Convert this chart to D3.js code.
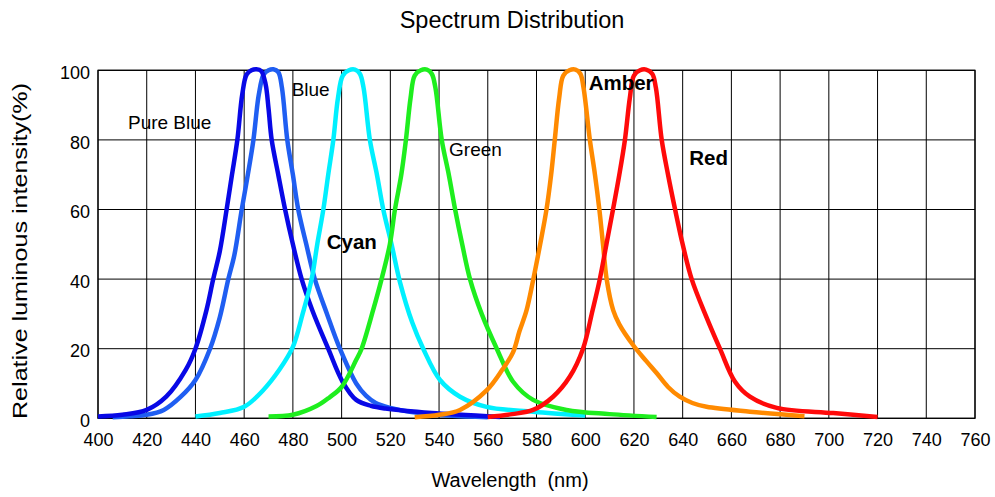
<!DOCTYPE html>
<html>
<head>
<meta charset="utf-8">
<script src="https://cdn.jsdelivr.net/npm/d3@7"></script>
<style>
  html, body { margin: 0; padding: 0; background: #fff; }
  svg { display: block; }
  text { font-family: "Liberation Sans", Arial, sans-serif; fill: #000; }
</style>
</head>
<body>
<svg id="chart" width="995" height="497"></svg>
<script>
// ---------- data ----------
const xTicks = [400,420,440,460,480,500,520,540,560,580,600,620,640,660,680,700,720,740,760];
const yTicks = [0,20,40,60,80,100];

const pureBlue = [
  [400,0.5],[410,1.0],[420,2.4],[428,6.2],[436,13.9],[440,20],[444.5,31],[447.3,40],[450,48],
  [452.8,60],[455,70],[457.2,80],[459.2,93],[461,98.8],[463,100],[465,100.3],[467,99.8],[468.8,96],
  [470,89],[471.3,80],[474,70],[476.8,60],[480,50],[483.6,40],[488,31],[494.5,20],[500.4,10.5],
  [506,5.3],[512,3.6],[518,2.8],[537,1.5],[565,0.4]
];
const blue = [
  [406,0.3],[413,0.6],[420,1.0],[427,2.4],[434,6.2],[440,11],[446,20],[450,29],[453.5,40],[456,47],
  [459,60],[461.5,70],[463.8,80],[466,93],[468,98.8],[470,100],[472,100.3],[474,99.5],[475.5,95],
  [477.7,80],[480,70],[482.2,60],[485.5,50],[489,40],[494,30],[499.3,20],[506,10],[510,6.5],
  [514,4.4],[520,3],[528,1.9],[544,0.8],[560,0.3]
];
const cyan = [
  [440,0.5],[450,1.5],[460,3.3],[467.7,8],[474.5,14],[480,20.5],[484,30],[487.7,40],[490,50],
  [492.5,60],[494.5,70],[496.6,80],[498.5,92],[500.5,98.5],[503,100],[505.5,100.2],[507.5,99],
  [509,95],[511.6,80],[514.5,70],[517.1,60],[520.5,50],[524,39],[529,27.5],[533.5,20],[540.4,11],
  [548.6,6.2],[559.5,3.3],[578.6,1.9],[600,0.8]
];
const green = [
  [470,0.5],[480,1],[489.7,3.5],[495,6],[500,9],[506,16.8],[508.2,20],[512.9,31],[516.4,40],
  [519.8,50],[521.9,60],[524.5,70],[526.4,80],[528.3,92],[530,98.5],[532.5,100],[535,100.2],
  [537,99],[538.5,95],[541.1,80],[544,70],[546.6,60],[549.5,50],[552.7,40],[557.5,30],[563.7,20],
  [570.4,10.5],[578.6,5.3],[592.3,2.4],[610,1.2],[629.3,0.4]
];
const amber = [
  [530,0.3],[540,1],[548.6,2.4],[559.5,8],[566,14],[570.4,19],[573,25],[575.9,31],[578.7,40],
  [581.5,50],[584.1,60],[586,70],[587.5,80],[589.3,92],[591,98.5],[593.5,100],[596,100.2],[598,99],
  [599.3,95],[601.9,80],[604,70],[605.8,60],[607.3,50],[608.8,40],[611.5,31],[614,27],[619.7,21],
  [625,16.5],[629.3,13],[634,9],[638.8,6.2],[644,4.4],[649.8,3.3],[667.6,1.9],[690,0.6]
];
const red = [
  [560,0.4],[570,1.2],[578.6,2.4],[586.8,6.2],[593.7,12],[599.1,20],[603,31],[606,40],[608.7,50],
  [611.4,60],[614,70],[616.3,80],[618.3,92],[620,98.5],[622.5,100],[625,100.2],[627.5,99],[629,95],
  [631.4,80],[634,70],[636.9,60],[640,50],[643.7,40],[649.8,29],[655.3,20],[661.5,10.5],
  [667.6,6.2],[678.6,3],[701.8,1.5],[720,0.4]
];

const seriesNames = ["Blue","Pure Blue","Cyan","Green","Amber","Red"];
const seriesData  = [blue, pureBlue, cyan, green, amber, red];
const seriesColors = ["#1f5ef2","#0808e6","#00f0ff","#1eee1e","#ff8a00","#ff0a0a"];

// label anchors in data units (wavelength, intensity)
const labelText = ["Pure Blue","Blue","Green","Cyan","Amber","Red"];
const labelNm   = [412.3, 479.5, 544.1, 493.9, 601.4, 642.7];
const labelVal  = [83.1, 92.6, 75.4, 48.6, 94.3, 72.8];
const labelBold = [false, false, false, true, true, true];

// ---------- layout ----------
const svg = d3.select("#chart");
const L = 98, T = 70.3, R = 975, B = 418.3;

const x = d3.scaleLinear().domain([400,760]).range([L,R]);
const y = d3.scaleLinear().domain([0,100]).range([B,T]);

// grid
const grid = svg.append("g");
grid.selectAll("line.v").data(xTicks).join("line")
  .attr("x1", d => x(d)).attr("x2", d => x(d))
  .attr("y1", T).attr("y2", B)
  .attr("stroke", "#000").attr("stroke-width", 1);
grid.selectAll("line.h").data(yTicks).join("line")
  .attr("x1", L).attr("x2", R)
  .attr("y1", d => y(d)).attr("y2", d => y(d))
  .attr("stroke", "#000").attr("stroke-width", 1);
svg.append("rect").attr("x", L).attr("y", T).attr("width", R-L).attr("height", B-T)
  .attr("fill", "none").attr("stroke", "#000").attr("stroke-width", 1.2);

// axes (labels only)
const xAxis = d3.axisBottom(x).tickValues(xTicks).tickSize(0).tickPadding(15).tickFormat(d3.format("d"));
const gx = svg.append("g").attr("transform", `translate(0,${B})`).call(xAxis);
gx.select(".domain").remove();
gx.selectAll("text").style("font-size", "18px").style("font-family", "Liberation Sans, Arial, sans-serif").attr("fill", "#000");

const yAxis = d3.axisLeft(y).tickValues(yTicks).tickSize(0).tickPadding(8).tickFormat(d3.format("d"));
const gy = svg.append("g").attr("transform", `translate(${L},0)`).call(yAxis);
gy.select(".domain").remove();
gy.selectAll("text").style("font-size", "18px").style("font-family", "Liberation Sans, Arial, sans-serif").attr("fill", "#000").attr("dy", "0.45em");

// curves
const line = d3.line()
  .x(d => x(d[0])).y(d => y(d[1]))
  .curve(d3.curveCatmullRom.alpha(0.5));

svg.append("g").selectAll("path").data(seriesData).join("path")
  .attr("d", d => line(d))
  .attr("fill", "none")
  .attr("stroke", (d,i) => seriesColors[i])
  .attr("stroke-width", 4.5)
  .attr("stroke-linejoin", "round")
  .attr("stroke-linecap", "butt");

// series labels
svg.append("g").selectAll("text").data(labelText).join("text")
  .attr("x", (d,i) => x(labelNm[i]))
  .attr("y", (d,i) => y(labelVal[i]))
  .style("font-size", (d,i) => labelBold[i] ? "20.5px" : "19px")
  .style("font-weight", (d,i) => labelBold[i] ? "bold" : "normal")
  .text(d => d);

// title
svg.append("text").attr("x", 512).attr("y", 28).attr("text-anchor", "middle")
  .style("font-size", "23.5px").text("Spectrum Distribution");

// axis titles
svg.append("text").attr("x", 510).attr("y", 487).attr("text-anchor", "middle")
  .style("font-size", "20px").style("white-space", "pre").text("Wavelength  (nm)");

svg.append("text")
  .attr("transform", "translate(27,251) rotate(-90)")
  .attr("text-anchor", "middle")
  .attr("textLength", 336).attr("lengthAdjust", "spacingAndGlyphs")
  .style("font-size", "21px").text("Relative luminous intensity(%)");
</script>
</body>
</html>
